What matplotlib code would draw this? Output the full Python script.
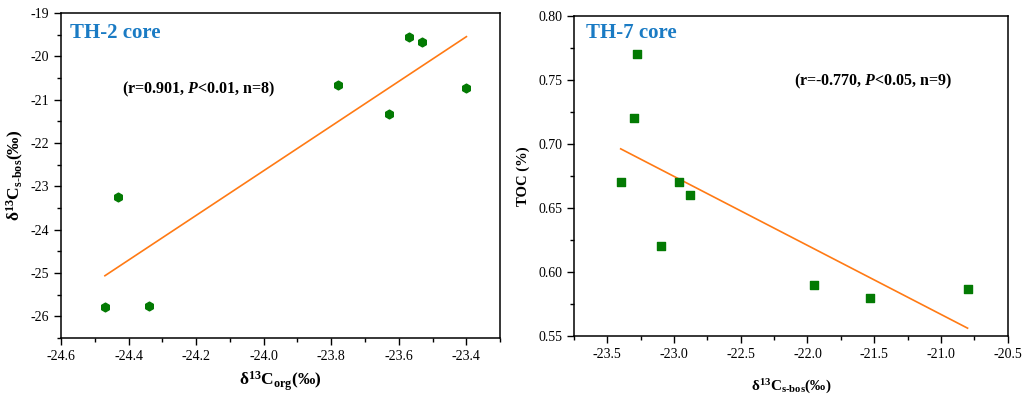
import numpy as np
import matplotlib
matplotlib.use('Agg')
import matplotlib.pyplot as plt
from matplotlib.ticker import MultipleLocator

plt.rcParams['font.family'] = 'Liberation Serif'
plt.rcParams['axes.unicode_minus'] = False
plt.rcParams['mathtext.fontset'] = 'custom'
plt.rcParams['mathtext.rm'] = 'Liberation Serif:bold'
plt.rcParams['mathtext.bf'] = 'Liberation Serif:bold'
plt.rcParams['mathtext.it'] = 'Liberation Serif:italic:bold'

# TH-2 core
th2_corg = [-24.47, -24.43, -24.34, -23.78, -23.63, -23.57, -23.53, -23.40]
th2_sbos = [-25.78, -23.25, -25.77, -20.65, -21.32, -19.55, -19.67, -20.73]

# TH-7 core
th7_sbos = [-23.40, -23.28, -23.30, -23.10, -22.96, -22.88, -21.95, -21.53, -20.80]
th7_toc = [0.670, 0.770, 0.720, 0.620, 0.670, 0.660, 0.590, 0.580, 0.587]

green = '#037a03'
orange = '#ff7a14'
blue = '#1a7bc4'

fig = plt.figure(figsize=(10.25, 3.99), dpi=100)
ax1 = fig.add_axes([0.0595, 0.153, 0.4285, 0.814])
ax2 = fig.add_axes([0.560, 0.158, 0.423, 0.802])


def fit_line(ax, x, y):
    k, b = np.polyfit(x, y, 1)
    xs = np.array([min(x), max(x)])
    ax.plot(xs, k * xs + b, color=orange, lw=1.2, zorder=1)


ax1.scatter(th2_corg, th2_sbos, s=40, marker='h', color=green, zorder=3)
fit_line(ax1, th2_corg, th2_sbos)
ax1.set_xlim(-24.6, -23.3)
ax1.set_ylim(-26.5, -19)
ax1.xaxis.set_major_locator(MultipleLocator(0.2))
ax1.xaxis.set_minor_locator(MultipleLocator(0.1))
ax1.yaxis.set_major_locator(MultipleLocator(1))
ax1.yaxis.set_minor_locator(MultipleLocator(0.5))
ax1.xaxis.set_major_formatter(matplotlib.ticker.FormatStrFormatter('%.1f'))
ax1.set_xlabel(r'δ$^{\mathrm{13}}$C$_{\mathrm{org}}$(‰)', fontsize=12.5, fontweight='bold', labelpad=5)
ax1.set_ylabel(r'δ$^{\mathrm{13}}$C$_{\mathrm{s\text{-}bos}}$(‰)', fontsize=12.5, fontweight='bold', labelpad=3)
ax1.text(0.02, 0.94, 'TH-2 core', transform=ax1.transAxes, fontsize=15,
         fontweight='bold', color=blue, va='center', ha='left')
ax1.text(0.314, 0.766, r'(r=0.901, $P$<0.01, n=8)', transform=ax1.transAxes,
         fontsize=11.5, fontweight='bold', va='center', ha='center')

ax2.scatter(th7_sbos, th7_toc, s=32, marker='s', color=green, zorder=3)
fit_line(ax2, th7_sbos, th7_toc)
ax2.set_xlim(-23.75, -20.5)
ax2.set_ylim(0.55, 0.80)
ax2.xaxis.set_major_locator(MultipleLocator(0.5))
ax2.xaxis.set_minor_locator(MultipleLocator(0.25))
ax2.yaxis.set_major_locator(MultipleLocator(0.05))
ax2.yaxis.set_minor_locator(MultipleLocator(0.025))
ax2.xaxis.set_major_formatter(matplotlib.ticker.FormatStrFormatter('%.1f'))
ax2.yaxis.set_major_formatter(matplotlib.ticker.FormatStrFormatter('%.2f'))
ax2.set_xlabel(r'δ$^{\mathrm{13}}$C$_{\mathrm{s\text{-}bos}}$(‰)', fontsize=11, fontweight='bold', labelpad=12)
ax2.set_ylabel('TOC (%)', fontsize=10.5, fontweight='bold', labelpad=6)
ax2.text(0.028, 0.947, 'TH-7 core', transform=ax2.transAxes, fontsize=15,
         fontweight='bold', color=blue, va='center', ha='left')
ax2.text(0.689, 0.794, r'(r=-0.770, $P$<0.05, n=9)', transform=ax2.transAxes,
         fontsize=11.5, fontweight='bold', va='center', ha='center')

for ax in (ax1, ax2):
    ax.tick_params(which='both', direction='out', top=False, right=False,
                   labelsize=10, width=1)
    ax.tick_params(which='major', length=5)
    ax.tick_params(which='minor', length=3)
    for sp in ax.spines.values():
        sp.set_linewidth(1.1)

fig.savefig('out.png', dpi=100)
